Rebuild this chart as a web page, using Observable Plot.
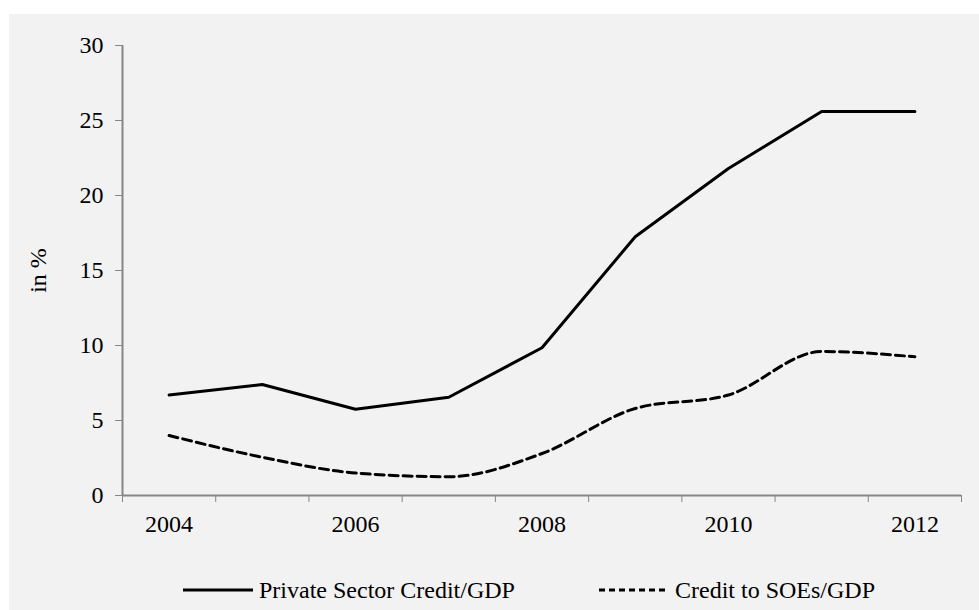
<!DOCTYPE html>
<html><head><meta charset="utf-8">
<script src="https://cdn.jsdelivr.net/npm/d3@7"></script>
<script src="https://cdn.jsdelivr.net/npm/@observablehq/plot@0.6"></script>
<style>
html,body{margin:0;padding:0;background:#fff;width:979px;height:610px;overflow:hidden;}
#wrap{position:absolute;left:9px;top:14px;width:970px;height:596px;background:#f2f2f2;font-family:"Liberation Serif","Times New Roman",serif;}
#legend{position:absolute;left:0;top:561px;width:970px;height:30px;}
.li{position:absolute;top:0;display:flex;align-items:center;font-size:24px;color:#000;white-space:nowrap;}
</style></head>
<body><div id="wrap"><div id="chart"></div><div id="legend"></div></div>
<script>
const years = [2004, 2005, 2006, 2007, 2008, 2009, 2010, 2011, 2012];
const privateCredit = [6.7, 7.4, 5.75, 6.55, 9.85, 17.25, 21.8, 25.6, 25.6];
const soeCredit = [4.0, 2.55, 1.5, 1.25, 2.8, 5.8, 6.7, 9.6, 9.25];
const yTicks = [0, 5, 10, 15, 20, 25, 30];
const xLabelYears = [2004, 2006, 2008, 2010, 2012];
const seriesNames = ["Private Sector Credit/GDP", "Credit to SOEs/GDP"];

const boundaries = years.map(y => y - 0.5).concat([years[years.length - 1] + 0.5]);
const rowsP = years.map((y, i) => ({year: y, value: privateCredit[i]}));
const rowsS = years.map((y, i) => ({year: y, value: soeCredit[i]}));
const axisGray = "#868686";

const chart = Plot.plot({
  width: 970,
  height: 545,
  marginLeft: 113,
  marginRight: 18,
  marginTop: 31,
  marginBottom: 64,
  style: {background: "transparent", fontFamily: "'Liberation Serif','Times New Roman',serif", fontSize: "24px", color: "#000"},
  x: {domain: [boundaries[0], boundaries[boundaries.length - 1]]},
  y: {domain: [0, 30]},
  marks: [
    Plot.axisY({ticks: yTicks, tickSize: 7, tickPadding: 12, stroke: axisGray, fill: "#000", label: "in %", labelAnchor: "center", labelArrow: "none", labelOffset: 94}),
    Plot.axisX({ticks: boundaries, tickSize: 7, tickFormat: () => "", stroke: axisGray, label: null}),
    Plot.axisX({ticks: xLabelYears, tickSize: 0, tickPadding: 19, tickFormat: d => String(d), fill: "#000", label: null}),
    Plot.ruleY([0], {stroke: axisGray, strokeWidth: 2}),
    Plot.ruleX([boundaries[0]], {stroke: axisGray, strokeWidth: 2}),
    Plot.line(rowsS, {x: "year", y: "value", stroke: "#000", strokeWidth: 3, strokeDasharray: "9,5", curve: "monotone-x"}),
    Plot.line(rowsP, {x: "year", y: "value", stroke: "#000", strokeWidth: 3})
  ]
});
document.getElementById("chart").appendChild(chart);

const legend = document.getElementById("legend");
const items = [
  {name: seriesNames[0], dash: null, left: 174},
  {name: seriesNames[1], dash: "6,4", left: 590}
];
items.forEach(it => {
  const d = document.createElement("div");
  d.className = "li";
  d.style.left = it.left + "px";
  d.innerHTML = `<svg width="72" height="30"><line x1="0" y1="15" x2="70" y2="15" stroke="#000" stroke-width="3" ${it.dash ? `stroke-dasharray="${it.dash}"` : ""}/></svg><span style="margin-left:4px">${it.name}</span>`;
  legend.appendChild(d);
});
</script>
</body></html>
